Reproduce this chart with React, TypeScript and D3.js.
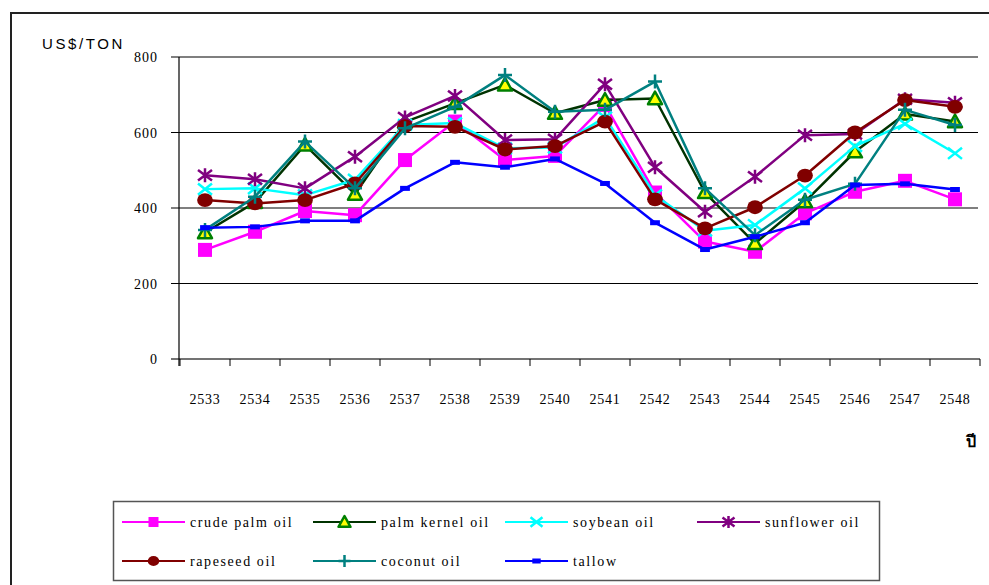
import React from "react";
import * as d3 from "d3";

// Thai Buddhist-era years on the x axis
const years = ["2533", "2534", "2535", "2536", "2537", "2538", "2539", "2540", "2541", "2542", "2543", "2544", "2545", "2546", "2547", "2548"];
const yTicks = [0, 200, 400, 600, 800];

const crudePalm = [289, 337, 392, 381, 527, 629, 527, 538, 673, 441, 311, 284, 386, 443, 472, 423];
const palmKernel = [335, 415, 567, 437, 628, 677, 726, 651, 686, 690, 441, 306, 417, 549, 649, 629];
const soybean = [450, 452, 434, 475, 620, 625, 558, 560, 640, 434, 340, 355, 452, 564, 623, 545];
const sunflower = [487, 476, 452, 536, 640, 697, 580, 582, 728, 508, 390, 483, 593, 596, 688, 679];
const rapeseed = [421, 412, 421, 465, 617, 615, 555, 564, 629, 423, 346, 402, 486, 600, 686, 668];
const coconut = [342, 430, 576, 452, 611, 668, 752, 655, 660, 735, 452, 328, 422, 464, 660, 620];
const tallow = [348, 350, 366, 366, 452, 521, 508, 530, 465, 361, 290, 324, 361, 461, 464, 449];

type Series = { name: string; values: number[]; color: string; marker: string };

const series: Series[] = [
  { name: "crude palm oil", values: crudePalm, color: "#ff00ff", marker: "square" },
  { name: "palm kernel oil", values: palmKernel, color: "#003300", marker: "triangle" },
  { name: "soybean oil", values: soybean, color: "#00ffff", marker: "x" },
  { name: "sunflower oil", values: sunflower, color: "#800080", marker: "star" },
  { name: "rapeseed oil", values: rapeseed, color: "#800000", marker: "circle" },
  { name: "coconut oil", values: coconut, color: "#008080", marker: "plus" },
  { name: "tallow", values: tallow, color: "#0000ff", marker: "dash" },
];

const serif = "'Liberation Serif', 'Times New Roman', serif";

const Marker = ({ kind, color, cx, cy, s }: { kind: string; color: string; cx: number; cy: number; s: number }) => {
  const h = s / 2;
  if (kind === "square") return <rect x={cx - h} y={cy - h} width={s} height={s} fill={color} />;
  if (kind === "triangle")
    return (
      <path
        d={`M${cx},${cy - h} L${cx + h},${cy + h * 0.8} L${cx - h},${cy + h * 0.8} Z`}
        fill="#ffff00"
        stroke="#008000"
        strokeWidth={2.5}
        strokeLinejoin="round"
      />
    );
  if (kind === "x")
    return (
      <path d={`M${cx - h},${cy - h * 0.8} L${cx + h},${cy + h * 0.8} M${cx - h},${cy + h * 0.8} L${cx + h},${cy - h * 0.8}`} stroke={color} strokeWidth={2.5} />
    );
  if (kind === "star")
    return (
      <path
        d={`M${cx - h},${cy - h * 0.75} L${cx + h},${cy + h * 0.75} M${cx - h},${cy + h * 0.75} L${cx + h},${cy - h * 0.75} M${cx},${cy - h} L${cx},${cy + h}`}
        stroke={color}
        strokeWidth={2.5}
      />
    );
  if (kind === "circle") return <ellipse cx={cx} cy={cy} rx={h * 1.05} ry={h * 0.92} fill={color} />;
  if (kind === "plus")
    return <path d={`M${cx - h},${cy} L${cx + h},${cy} M${cx},${cy - h} L${cx},${cy + h}`} stroke={color} strokeWidth={2.5} />;
  // tallow: short thick dash
  return <rect x={cx - s * 0.35} y={cy - 2.5} width={s * 0.7} height={5} fill={color} />;
};

export default function App() {
  const x = d3.scaleBand<string>().domain(years).range([180, 980]).padding(0);
  const y = d3.scaleLinear().domain([0, 800]).range([359, 57]);
  const cx = (d: string) => (x(d) as number) + x.bandwidth() / 2;

  const line = d3
    .line<number>()
    .x((_, i) => cx(years[i]))
    .y((d) => y(d));

  const legendCols = [122, 313, 505, 697];
  const legendRows = [522, 561];

  return (
    <svg width={989} height={585} style={{ position: "absolute", left: 0, top: 0, background: "#fff" }}>
      {/* outer frame */}
      <line x1={11} x2={11} y1={13} y2={585} stroke="#222" strokeWidth={2} />
      <line x1={10} x2={989} y1={13} y2={13} stroke="#222" strokeWidth={2} />

      <text x={42} y={49} fontFamily="'Liberation Sans', Arial, sans-serif" fontSize={15} letterSpacing={2.6} fill="#000">
        US$/TON
      </text>

      {/* gridlines and y ticks */}
      {yTicks.map((t) => (
        <g key={t}>
          <line x1={171} x2={t === 0 ? 980 : 978} y1={y(t)} y2={y(t)} stroke={t === 0 ? "#444" : "#000"} strokeWidth={t === 0 ? 1.5 : 1.2} />
          <text x={158} y={y(t) + 5} textAnchor="end" fontFamily={serif} fontSize={14} letterSpacing={1} fill="#000">
            {t}
          </text>
        </g>
      ))}
      <line x1={179} x2={179} y1={57} y2={366} stroke="#000" strokeWidth={1.2} />

      {/* x ticks */}
      {years.map((d) => (
        <g key={d}>
          <line x1={x(d) as number} x2={x(d) as number} y1={359} y2={366} stroke="#000" strokeWidth={1} />
          <text x={cx(d)} y={404} textAnchor="middle" fontFamily={serif} fontSize={14} letterSpacing={0.8} fill="#000">
            {d}
          </text>
        </g>
      ))}
      <line x1={980} x2={980} y1={359} y2={366} stroke="#000" strokeWidth={1} />

      <text x={966} y={447} fontFamily="'DejaVu Sans', 'Noto Sans', sans-serif" fontWeight="bold" fontSize={16} fill="#000">
        ปี
      </text>

      {/* series */}
      {series.map((s) => (
        <g key={s.name}>
          <path d={line(s.values) || ""} fill="none" stroke={s.color} strokeWidth={2.5} strokeLinejoin="round" />
          {s.values.map((v, i) => (
            <Marker key={i} kind={s.marker} color={s.color} cx={cx(years[i])} cy={y(v)} s={s.marker === "circle" ? 15 : 14} />
          ))}
        </g>
      ))}

      {/* legend */}
      <rect x={113.5} y={501.5} width={766} height={79} fill="#fff" stroke="#555" strokeWidth={1.5} />
      {series.map((s, i) => {
        const lx = legendCols[i % 4];
        const ly = legendRows[Math.floor(i / 4)];
        return (
          <g key={s.name}>
            <line x1={lx} x2={lx + 63} y1={ly} y2={ly} stroke={s.color} strokeWidth={2.2} />
            <Marker kind={s.marker} color={s.color} cx={lx + 31.5} cy={ly} s={s.marker === "square" ? 10 : s.marker === "circle" ? 11 : 12} />
            <text x={lx + 68} y={ly + 5} fontFamily={serif} fontSize={14} letterSpacing={1.6} fill="#000">
              {s.name}
            </text>
          </g>
        );
      })}
    </svg>
  );
}
